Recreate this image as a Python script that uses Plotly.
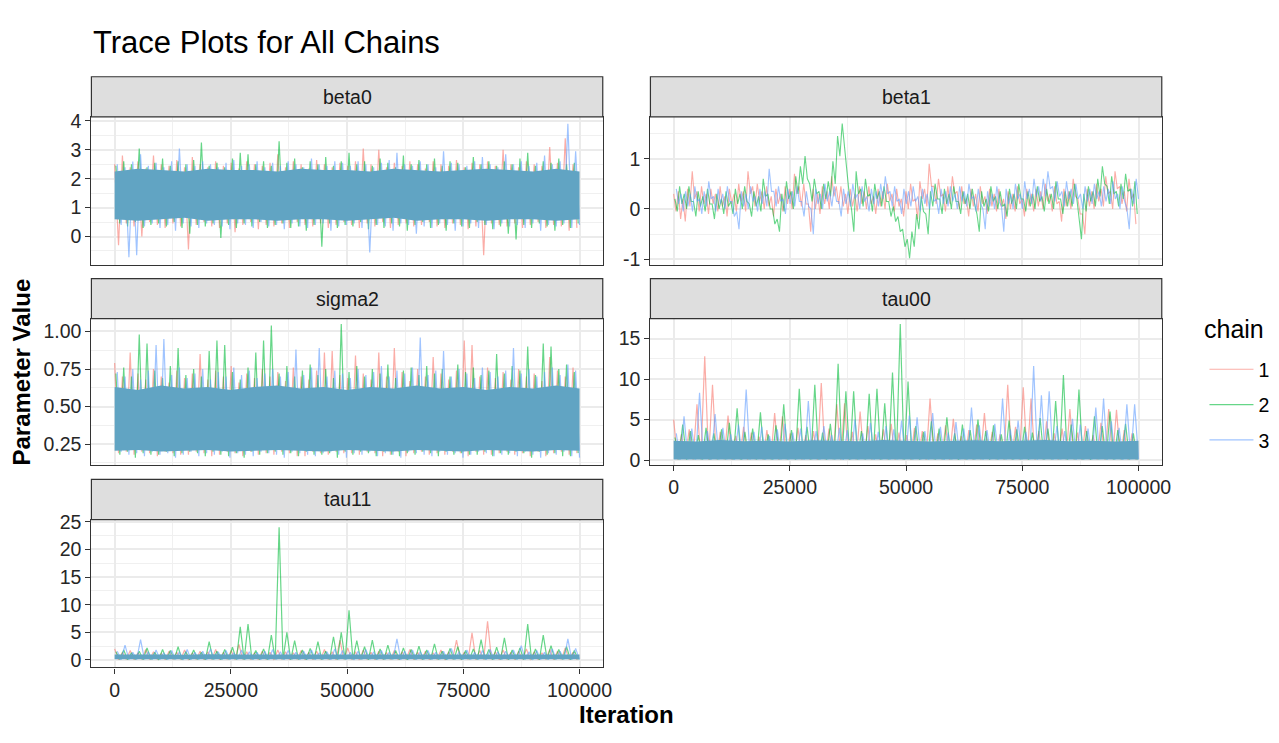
import numpy as np
import plotly.graph_objects as go

# ---------------- data ----------------
CHAINS = ["1", "2", "3"]
CHAIN_COLORS = ["rgba(248,118,109,0.6)", "rgba(0,186,56,0.6)", "rgba(97,156,255,0.6)"]
BAND_COLOR = "#61A4C3"
CHAIN_START = [0, 280, 560]
CHAIN_END = [99440, 99720, 100000]
BAND_ITER = [0, 5000, 10000, 15000, 20000, 25000, 30000, 35000, 40000, 45000, 50000,
             55000, 60000, 65000, 70000, 75000, 80000, 85000, 90000, 95000, 100000]
X_TICKS = [0, 25000, 50000, 75000, 100000]
BETA1_TICKS = [-1, 0, 1]
BETA1_TICK_TEXT = ["-1", "0", "1"]

# beta0 : per chain, successive local maxima (hi) and minima (lo)
beta0_c1_hi = [2.5, 2.8, 2.4, 2.6, 2.35, 2.8, 2.5, 2.45, 2.65, 2.4,
               2.75, 2.5, 2.4, 2.6, 2.45, 2.55, 2.35, 2.6, 2.5, 2.45,
               2.55, 2.85, 2.4, 2.6, 2.5, 2.35, 2.65, 2.5, 2.4, 2.55,
               2.45, 2.6, 3.05, 2.5, 3.0, 2.4, 2.55, 2.45, 2.6, 2.5,
               2.35, 2.6, 2.5, 2.45, 2.65, 2.4, 2.55, 2.5, 2.6, 2.45,
               3.0, 2.5, 2.4, 2.6, 2.5, 2.45, 3.1, 2.55, 3.4, 2.5]
beta0_c1_lo = [-0.3, 0.45, 0.35, 0.0, 0.5, 0.4, 0.3, 0.45, 0.35, -0.45,
               0.4, 0.5, 0.35, 0.3, 0.45, 0.15, 0.4, 0.5, 0.25, 0.4,
               0.35, 0.45, 0.3, 0.5, 0.4, 0.35, 0.45, 0.3, 0.4, 0.5,
               0.4, 0.3, 0.45, 0.35, 0.5, 0.3, 0.4, 0.45, 0.35, 0.4,
               0.5, 0.35, 0.3, 0.45, 0.4, 0.25, 0.35, -0.65, 0.45, 0.4,
               0.35, 0.45, 0.3, 0.4, 0.5, 0.3, 0.4, 0.35, 0.2, 0.3]
beta0_c2_hi = [2.45, 2.6, 2.5, 3.05, 2.4, 2.55, 2.7, 2.45, 2.6, 2.5,
               2.65, 3.25, 2.45, 2.55, 2.4, 2.7, 2.9, 2.85, 2.5, 2.6,
               2.45, 3.3, 2.55, 2.7, 2.4, 2.6, 2.5, 2.75, 2.45, 2.6,
               2.9, 2.5, 2.6, 2.45, 2.7, 2.55, 2.4, 2.8, 2.5, 2.65,
               2.5, 2.7, 2.45, 2.6, 2.55, 2.4, 2.75, 2.5, 2.6, 2.45,
               2.6, 2.5, 2.7, 2.9, 2.45, 2.6, 2.55, 2.7, 2.5, 2.55]
beta0_c2_lo = [0.45, 0.35, 0.5, 0.3, 0.4, 0.45, 0.35, 0.5, 0.3, 0.1,
               0.4, 0.35, 0.45, -0.05, 0.4, 0.3, 0.45, 0.35, 0.5, 0.3,
               0.4, 0.45, 0.3, 0.35, 0.2, 0.4, -0.35, 0.45, 0.3, 0.4,
               0.35, 0.5, 0.25, 0.4, 0.3, 0.45, 0.35, 0.2, 0.4, 0.5,
               0.3, 0.4, 0.2, 0.45, 0.35, 0.3, 0.5, 0.4, 0.25, 0.35,
               0.1, -0.1, 0.4, 0.3, 0.45, 0.35, 0.2, 0.4, 0.3, 0.45]
beta0_c3_hi = [2.5, 2.4, 2.6, 2.85, 2.45, 2.55, 2.4, 2.6, 3.05, 2.5,
               2.45, 2.6, 2.5, 2.4, 2.55, 2.65, 2.45, 2.5, 2.6, 2.4,
               2.55, 2.45, 2.6, 2.5, 2.4, 2.7, 2.5, 2.45, 2.6, 2.55,
               2.45, 2.6, 2.5, 2.4, 2.55, 2.65, 2.9, 2.5, 2.45, 2.6,
               2.5, 2.4, 2.95, 2.55, 2.5, 2.45, 2.6, 2.75, 2.5, 2.4,
               2.85, 2.5, 2.6, 2.45, 2.55, 2.8, 2.5, 2.6, 3.9, 2.95]
beta0_c3_lo = [0.4, -0.72, -0.65, 0.35, 0.45, 0.3, 0.4, 0.2, 0.45, 0.35,
               0.3, 0.45, 0.4, 0.35, 0.25, 0.45, 0.4, 0.3, 0.5, 0.35,
               0.4, 0.25, 0.45, 0.35, 0.3, 0.4, 0.45, 0.2, 0.35, 0.4,
               0.45, 0.3, -0.55, 0.4, 0.35, 0.2, 0.45, 0.4, 0.1, 0.35,
               0.3, 0.45, 0.4, 0.2, 0.35, 0.45, 0.3, 0.4, 0.25, 0.45,
               0.35, 0.4, 0.3, 0.45, 0.2, 0.4, 0.35, 0.45, 0.3, 0.4]
beta0_band_hi = [2.25, 2.35, 2.3, 2.25, 2.35, 2.3, 2.3, 2.25, 2.35, 2.3, 2.3,
                 2.25, 2.35, 2.3, 2.25, 2.3, 2.35, 2.3, 2.25, 2.35, 2.25]
beta0_band_lo = [0.6, 0.55, 0.6, 0.65, 0.55, 0.6, 0.6, 0.55, 0.6, 0.6, 0.55,
                 0.6, 0.65, 0.55, 0.6, 0.6, 0.55, 0.6, 0.6, 0.55, 0.6]

# sigma2
sigma2_c1_hi = [0.79, 0.7, 0.86, 0.72, 0.68, 0.75, 0.7, 0.66, 0.74, 0.69,
                0.72, 0.85, 0.68, 0.74, 0.7, 0.77, 0.66, 0.72, 0.69, 0.75,
                0.7, 0.73, 0.67, 0.76, 0.7, 0.68, 0.74, 0.86, 0.87, 0.71,
                0.69, 0.84, 0.72, 0.68, 0.86, 0.7, 0.89, 0.73, 0.67, 0.75,
                0.7, 0.83, 0.72, 0.68, 0.74, 0.94, 0.91, 0.7, 0.76, 0.69,
                0.73, 0.68, 0.75, 0.7, 0.72, 0.67, 0.83, 0.74, 0.7, 0.76]
sigma2_c1_lo = [0.19, 0.2, 0.18, 0.2, 0.19, 0.17, 0.2, 0.19, 0.18, 0.18,
                0.2, 0.19, 0.17, 0.18, 0.2, 0.19, 0.17, 0.2, 0.18, 0.19,
                0.18, 0.2, 0.19, 0.17, 0.17, 0.2, 0.19, 0.18, 0.2, 0.19,
                0.19, 0.18, 0.2, 0.19, 0.17, 0.18, 0.2, 0.17, 0.19, 0.2,
                0.18, 0.19, 0.18, 0.2, 0.19, 0.17, 0.2, 0.18, 0.18, 0.19,
                0.2, 0.18, 0.19, 0.17, 0.2, 0.17, 0.19, 0.2, 0.18, 0.19]
sigma2_c2_hi = [0.72, 0.76, 0.7, 0.98, 0.92, 0.74, 0.69, 0.77, 0.89, 0.71,
                0.75, 0.7, 0.87, 0.94, 0.91, 0.73, 0.68, 0.76, 0.86, 0.94,
                1.04, 0.72, 0.77, 0.7, 0.74, 0.78, 0.71, 0.75, 0.69, 1.05,
                0.73, 0.77, 0.7, 0.75, 0.72, 0.78, 0.69, 0.74, 0.76, 0.71,
                0.77, 0.72, 0.75, 0.7, 0.78, 0.73, 0.76, 0.71, 0.74, 0.85,
                0.72, 0.77, 0.74, 0.9, 0.71, 0.92, 0.9, 0.75, 0.78, 0.73]
sigma2_c2_lo = [0.18, 0.2, 0.16, 0.19, 0.18, 0.18, 0.2, 0.17, 0.19, 0.2,
                0.19, 0.17, 0.2, 0.18, 0.17, 0.19, 0.16, 0.2, 0.18, 0.19,
                0.2, 0.18, 0.19, 0.17, 0.2, 0.18, 0.18, 0.19, 0.16, 0.2,
                0.18, 0.2, 0.19, 0.17, 0.2, 0.18, 0.17, 0.19, 0.18, 0.2,
                0.19, 0.17, 0.2, 0.18, 0.19, 0.18, 0.18, 0.2, 0.17, 0.19,
                0.18, 0.2, 0.19, 0.16, 0.2, 0.18, 0.19, 0.17, 0.17, 0.19]
sigma2_c3_hi = [0.73, 0.7, 0.75, 0.68, 0.74, 0.91, 0.95, 0.71, 0.76, 0.69,
                0.72, 0.75, 0.68, 0.73, 0.7, 0.76, 0.71, 0.74, 0.69, 0.72,
                0.75, 0.7, 0.73, 0.88, 0.71, 0.76, 0.89, 0.7, 0.74, 0.72,
                0.69, 0.75, 0.71, 0.73, 0.77, 0.7, 0.74, 0.72, 0.76, 0.96,
                0.71, 0.74, 0.87, 0.7, 0.75, 0.72, 0.69, 0.76, 0.73, 0.7,
                0.74, 0.89, 0.72, 0.75, 0.7, 0.73, 0.76, 0.71, 0.78, 0.74]
sigma2_c3_lo = [0.2, 0.18, 0.19, 0.17, 0.2, 0.18, 0.19, 0.16, 0.18, 0.2,
                0.17, 0.19, 0.18, 0.2, 0.16, 0.19, 0.18, 0.17, 0.2, 0.19,
                0.18, 0.16, 0.2, 0.19, 0.18, 0.17, 0.19, 0.2, 0.18, 0.16,
                0.19, 0.18, 0.2, 0.17, 0.19, 0.18, 0.16, 0.2, 0.19, 0.18,
                0.17, 0.2, 0.18, 0.19, 0.16, 0.18, 0.2, 0.19, 0.17, 0.18,
                0.19, 0.17, 0.2, 0.18, 0.16, 0.19, 0.18, 0.2, 0.17, 0.16]
sigma2_band_hi = [0.63, 0.61, 0.64, 0.62, 0.63, 0.61, 0.63, 0.64, 0.62, 0.63, 0.61,
                  0.63, 0.62, 0.64, 0.62, 0.63, 0.61, 0.63, 0.62, 0.64, 0.62]
sigma2_band_lo = [0.205, 0.21, 0.2, 0.205, 0.21, 0.2, 0.205, 0.21, 0.205, 0.2, 0.21,
                  0.205, 0.2, 0.21, 0.205, 0.2, 0.21, 0.205, 0.2, 0.21, 0.205]

# tau00
tau00_c1_hi = [5.0, 3.2, 3.8, 6.9, 12.8, 9.3, 3.5, 5.5, 3.0, 4.1,
               3.4, 2.9, 3.7, 5.8, 5.4, 3.3, 4.0, 3.1, 3.6, 9.5,
               3.9, 6.9, 7.0, 3.5, 6.0, 4.2, 3.2, 3.8, 4.5, 3.4,
               3.1, 4.0, 3.6, 7.6, 3.3, 4.3, 5.1, 3.0, 3.7, 4.4,
               5.8, 3.5, 3.2, 9.3, 4.1, 9.0, 7.6, 3.6, 4.8, 3.3,
               3.9, 6.3, 3.4, 4.2, 3.1, 4.6, 6.3, 6.2, 3.7, 3.3]
tau00_c1_lo = [0.08, 0.12, 0.06, 0.1, 0.07, 0.11, 0.09, 0.05, 0.12, 0.08,
               0.1, 0.07, 0.11, 0.06, 0.09, 0.12, 0.08, 0.1, 0.05, 0.09,
               0.11, 0.07, 0.1, 0.08, 0.12, 0.06, 0.09, 0.11, 0.07, 0.1,
               0.08, 0.12, 0.05, 0.1, 0.09, 0.07, 0.11, 0.08, 0.06, 0.1,
               0.12, 0.09, 0.07, 0.1, 0.08, 0.11, 0.05, 0.09, 0.12, 0.07,
               0.1, 0.08, 0.06, 0.11, 0.09, 0.07, 0.12, 0.1, 0.08, 0.06]
tau00_c2_hi = [2.8, 4.4, 3.6, 3.1, 4.0, 3.3, 3.8, 4.6, 6.4, 3.5,
               3.9, 5.9, 3.2, 4.3, 6.9, 3.7, 8.8, 4.1, 9.3, 3.4,
               4.5, 11.9, 8.5, 8.5, 3.6, 8.2, 8.8, 7.0, 10.8, 16.8,
               9.7, 4.2, 3.5, 4.8, 3.9, 5.3, 3.3, 4.4, 3.7, 5.0,
               3.6, 4.3, 3.2, 4.9, 3.8, 4.1, 3.4, 5.2, 3.9, 7.3,
               10.5, 4.4, 8.7, 3.6, 5.4, 4.2, 6.0, 3.7, 4.5, 3.3]
tau00_c2_lo = [0.1, 0.07, 0.12, 0.08, 0.06, 0.11, 0.09, 0.1, 0.05, 0.12,
               0.08, 0.1, 0.07, 0.11, 0.09, 0.06, 0.12, 0.08, 0.1, 0.07,
               0.09, 0.11, 0.05, 0.1, 0.08, 0.12, 0.07, 0.09, 0.11, 0.06,
               0.1, 0.08, 0.12, 0.07, 0.09, 0.11, 0.05, 0.1, 0.08, 0.12,
               0.06, 0.09, 0.11, 0.07, 0.1, 0.08, 0.12, 0.06, 0.09, 0.11,
               0.07, 0.1, 0.08, 0.05, 0.12, 0.09, 0.07, 0.11, 0.1, 0.08]
tau00_c3_hi = [3.3, 5.4, 3.9, 8.3, 3.6, 5.7, 4.0, 3.2, 4.4, 8.7,
               3.5, 4.1, 3.0, 3.8, 4.5, 3.4, 3.9, 7.3, 3.6, 4.2,
               3.1, 4.0, 3.7, 5.0, 3.3, 4.6, 3.5, 4.2, 3.8, 4.9,
               5.5, 5.3, 3.6, 5.8, 4.1, 3.4, 4.7, 3.9, 6.5, 4.3,
               3.7, 4.5, 7.6, 3.8, 4.9, 3.5, 11.6, 8.0, 8.5, 4.2,
               3.6, 5.1, 4.4, 3.9, 6.5, 7.6, 4.8, 4.0, 6.9, 6.9]
tau00_c3_lo = [0.06, 0.1, 0.08, 0.12, 0.07, 0.09, 0.11, 0.05, 0.1, 0.08,
               0.12, 0.07, 0.09, 0.1, 0.06, 0.11, 0.08, 0.12, 0.07, 0.09,
               0.1, 0.05, 0.11, 0.08, 0.12, 0.07, 0.1, 0.06, 0.09, 0.11,
               0.08, 0.1, 0.07, 0.12, 0.05, 0.09, 0.11, 0.08, 0.1, 0.06,
               0.12, 0.07, 0.09, 0.11, 0.08, 0.1, 0.05, 0.12, 0.07, 0.09,
               0.11, 0.06, 0.1, 0.08, 0.12, 0.07, 0.09, 0.05, 0.11, 0.1]
tau00_band_hi = [2.4, 2.3, 2.5, 2.35, 2.4, 2.3, 2.45, 2.4, 2.35, 2.5, 2.4,
                 2.3, 2.4, 2.45, 2.35, 2.4, 2.5, 2.35, 2.4, 2.3, 2.4]
tau00_band_lo = [0.1, 0.1, 0.1, 0.1, 0.1, 0.1, 0.1, 0.1, 0.1, 0.1, 0.1,
                 0.1, 0.1, 0.1, 0.1, 0.1, 0.1, 0.1, 0.1, 0.1, 0.1]

# tau11
tau11_c1_hi = [2.0, 1.4, 1.7, 1.3, 1.9, 1.5, 1.2, 1.6, 1.4, 1.8,
               1.3, 1.6, 1.5, 1.9, 1.4, 1.7, 2.8, 1.5, 1.3, 1.6,
               1.4, 1.8, 1.5, 1.3, 1.7, 1.4, 1.6, 1.9, 1.5, 3.6,
               2.2, 1.5, 1.8, 1.4, 1.6, 1.3, 1.7, 1.5, 1.9, 1.4,
               1.6, 1.3, 1.8, 1.5, 3.6, 1.4, 4.9, 1.7, 7.0, 1.5,
               1.8, 1.4, 1.6, 2.0, 1.5, 1.3, 1.9, 1.6, 2.2, 1.4]
tau11_c1_lo = [0.05, 0.1, 0.03, 0.08, 0.06, 0.11, 0.04, 0.09, 0.07, 0.02,
               0.1, 0.05, 0.08, 0.03, 0.11, 0.06, 0.09, 0.04, 0.07, 0.1,
               0.02, 0.08, 0.05, 0.11, 0.06, 0.03, 0.09, 0.07, 0.04, 0.1,
               0.06, 0.02, 0.08, 0.05, 0.11, 0.07, 0.03, 0.09, 0.04, 0.1,
               0.05, 0.08, 0.02, 0.11, 0.06, 0.09, 0.03, 0.07, 0.1, 0.04,
               0.08, 0.05, 0.11, 0.02, 0.07, 0.09, 0.04, 0.1, 0.06, 0.03]
tau11_c2_hi = [1.5, 1.8, 1.3, 1.6, 2.2, 1.4, 1.9, 1.7, 2.4, 1.5,
               1.8, 1.4, 3.3, 1.6, 1.9, 2.3, 6.0, 6.5, 1.7, 2.0,
               4.5, 24.0, 5.0, 3.5, 1.8, 2.1, 3.3, 1.6, 4.2, 5.0,
               9.0, 3.5, 2.4, 3.6, 2.0, 2.7, 1.7, 2.2, 1.9, 2.5,
               1.8, 2.9, 1.6, 2.1, 2.4, 1.7, 2.0, 3.7, 1.9, 2.3,
               4.0, 1.8, 2.2, 6.5, 2.0, 4.5, 2.6, 1.9, 2.4, 1.7]
tau11_c2_lo = [0.08, 0.03, 0.1, 0.05, 0.09, 0.02, 0.07, 0.11, 0.04, 0.06,
               0.1, 0.03, 0.08, 0.05, 0.11, 0.07, 0.02, 0.09, 0.06, 0.04,
               0.1, 0.07, 0.03, 0.08, 0.05, 0.11, 0.02, 0.09, 0.06, 0.04,
               0.08, 0.1, 0.03, 0.07, 0.05, 0.11, 0.06, 0.02, 0.09, 0.04,
               0.1, 0.07, 0.05, 0.08, 0.03, 0.11, 0.06, 0.09, 0.02, 0.07,
               0.04, 0.1, 0.05, 0.08, 0.03, 0.11, 0.06, 0.09, 0.04, 0.07]
tau11_c3_hi = [1.6, 2.7, 1.4, 3.7, 1.5, 1.8, 1.3, 1.7, 1.5, 1.9,
               1.4, 1.6, 2.0, 1.5, 1.7, 1.3, 1.8, 1.5, 1.4, 1.6,
               1.9, 1.5, 1.7, 1.4, 1.6, 1.8, 1.3, 1.5, 2.0, 1.7,
               1.4, 1.6, 1.9, 1.5, 1.7, 1.4, 3.8, 1.6, 1.8, 1.5,
               1.7, 1.4, 1.6, 2.1, 1.5, 1.8, 1.4, 1.7, 1.9, 1.5,
               1.6, 1.8, 2.6, 1.5, 1.7, 1.4, 2.0, 1.6, 3.8, 2.1]
tau11_c3_lo = [0.04, 0.09, 0.06, 0.11, 0.03, 0.08, 0.05, 0.1, 0.02, 0.07,
               0.09, 0.04, 0.11, 0.06, 0.03, 0.08, 0.1, 0.05, 0.07, 0.02,
               0.09, 0.06, 0.11, 0.04, 0.08, 0.03, 0.1, 0.05, 0.07, 0.09,
               0.02, 0.06, 0.11, 0.04, 0.08, 0.1, 0.03, 0.07, 0.05, 0.09,
               0.06, 0.11, 0.02, 0.08, 0.04, 0.1, 0.07, 0.03, 0.09, 0.05,
               0.11, 0.06, 0.08, 0.02, 0.1, 0.04, 0.07, 0.09, 0.03, 0.06]
tau11_band_hi = [1.0, 1.05, 1.0, 0.95, 1.05, 1.0, 1.0, 1.05, 1.0, 0.95, 1.0,
                 1.05, 1.0, 1.0, 0.95, 1.05, 1.0, 1.0, 1.05, 1.0, 1.0]
tau11_band_lo = [0.15, 0.15, 0.15, 0.15, 0.15, 0.15, 0.15, 0.15, 0.15, 0.15, 0.15,
                 0.15, 0.15, 0.15, 0.15, 0.15, 0.15, 0.15, 0.15, 0.15, 0.15]

# beta1 : per chain, local maxima / minima every 1000 iterations
beta1_c1_hi = [0.3, 0.35, 0.2, 0.4, 0.75, 0.35, 0.45, 0.3, 0.4, 0.3,
               0.45, 0.25, 0.4, 0.3, 0.5, 0.35, 0.75, 0.45, 0.5, 0.35,
               0.45, 0.25, 0.4, 0.3, 0.45, 0.4, 0.7, 0.45, 0.5, 0.1,
               0.4, 0.3, 0.45, 0.35, 0.65, 0.45, 0.45, 0.3, 0.4, 0.3,
               0.45, 0.35, 0.45, 0.25, 0.4, 0.35, 0.5, 0.3, 0.4, 0.2,
               0.35, 0.5, 0.2, 0.55, 0.4, 0.9, 0.45, 0.6, 0.3, 0.45,
               0.65, 0.35, 0.45, 0.2, 0.4, 0.3, 0.45, 0.25, 0.4, 0.3,
               0.4, 0.2, 0.35, 0.3, 0.45, 0.2, 0.4, 0.3, 0.4, 0.35,
               0.5, 0.3, 0.45, 0.15, 0.4, 0.35, 0.6, 0.2, -0.1, 0.4,
               0.35, 0.5, 0.4, 0.65, 0.35, 0.75, 0.45, 0.35, 0.6, 0.3]
beta1_c1_lo = [-0.05, -0.2, -0.25, 0.05, 0.2, -0.05, 0.1, -0.1, 0.1, -0.05,
               0.05, -0.15, 0.1, -0.05, 0.15, -0.05, 0.3, 0.05, 0.15, 0.0,
               0.05, -0.15, 0.1, -0.05, 0.1, 0.0, 0.3, 0.05, 0.1, -0.45,
               0.0, -0.1, 0.1, 0.0, 0.25, 0.1, 0.05, -0.1, 0.05, -0.05,
               0.1, 0.0, 0.1, -0.1, 0.05, 0.0, 0.15, -0.05, 0.05, -0.15,
               0.0, 0.15, -0.2, 0.2, 0.05, 0.45, 0.1, 0.25, -0.05, 0.1,
               0.3, 0.0, 0.1, -0.15, 0.05, -0.05, 0.1, -0.1, 0.05, -0.05,
               0.05, -0.2, 0.0, -0.05, 0.1, -0.15, 0.05, -0.05, 0.05, 0.0,
               0.15, -0.05, 0.1, -0.25, 0.05, 0.0, 0.25, -0.1, -0.5, 0.05,
               0.0, 0.15, 0.05, 0.3, 0.0, 0.4, 0.1, -0.05, 0.2, -0.3]
beta1_c2_hi = [0.2, 0.45, 0.3, 0.45, 0.15, 0.35, 0.25, 0.4, 0.1, 0.3,
               0.2, 0.35, 0.15, 0.4, 0.3, 0.45, 0.1, 0.35, 0.25, 0.6,
               0.3, 0.0, -0.2, 0.3, 0.55, 0.35, 0.65, 0.85, 1.05, 0.5,
               0.6, 0.35, 0.5, 0.55, 0.95, 1.45, 1.7, 0.8, 0.0, 0.75,
               0.4, 0.6, 0.3, 0.5, 0.35, 0.45, 0.15, 0.05, -0.15, -0.4,
               -0.6, -0.45, -0.1, 0.25, -0.1, 0.35, 0.5, 0.2, 0.4, 0.3,
               0.45, 0.15, 0.35, 0.3, 0.4, -0.1, 0.35, 0.2, 0.45, 0.25,
               0.35, 0.1, 0.4, 0.3, 0.5, 0.2, 0.35, 0.3, 0.45, 0.25,
               0.4, 0.3, 0.55, 0.2, 0.35, 0.35, 0.5, -0.2, 0.3, 0.45,
               0.35, 0.6, 0.85, 0.45, 0.65, 0.35, 0.5, 0.7, 0.4, 0.55]
beta1_c2_lo = [-0.05, 0.1, 0.0, 0.15, -0.15, 0.05, -0.05, 0.1, -0.2, 0.0,
               -0.1, 0.05, -0.1, 0.1, 0.0, 0.15, -0.15, 0.05, -0.05, 0.25,
               0.0, -0.3, -0.45, -0.05, 0.2, 0.0, 0.3, 0.5, 0.6, 0.15,
               0.3, 0.0, 0.2, 0.25, 0.5, 1.05, 1.2, 0.3, -0.45, 0.3,
               0.05, 0.25, -0.05, 0.2, 0.05, 0.15, -0.15, -0.25, -0.45, -0.75,
               -0.98, -0.75, -0.4, -0.05, -0.5, 0.05, 0.2, -0.1, 0.1, 0.0,
               0.15, -0.1, 0.1, 0.0, 0.1, -0.45, 0.05, -0.05, 0.15, 0.0,
               0.05, -0.15, 0.1, 0.0, 0.2, -0.05, 0.05, 0.0, 0.15, -0.05,
               0.1, 0.0, 0.2, -0.1, 0.05, 0.05, 0.2, -0.6, -0.05, 0.15,
               0.05, 0.25, 0.5, 0.1, 0.3, 0.05, 0.2, 0.35, 0.05, -0.1]
beta1_c3_hi = [0.4, 0.3, 0.35, 0.3, 0.45, 0.2, 0.35, 0.55, 0.25, 0.4,
               0.3, 0.45, 0.15, -0.05, 0.35, 0.3, 0.45, 0.25, 0.4, 0.35,
               0.8, 0.35, 0.45, 0.2, 0.4, 0.35, 0.45, 0.15, 0.35, 0.0,
               0.4, 0.3, 0.5, 0.35, 0.45, 0.15, 0.4, 0.35, 0.5, 0.3,
               0.45, 0.25, 0.4, 0.35, 0.5, 0.65, 0.35, 0.45, 0.2, 0.4,
               0.35, 0.45, 0.25, 0.4, 0.3, 0.45, 0.2, 0.4, 0.35, 0.45,
               0.3, 0.45, 0.35, 0.5, 0.25, 0.4, 0.0, 0.35, 0.3, 0.45,
               0.05, 0.4, 0.3, 0.5, 0.3, 0.55, 0.4, 0.6, 0.45, 0.6,
               0.75, 0.45, 0.55, 0.35, 0.55, 0.4, 0.5, 0.3, 0.45, 0.4,
               0.5, 0.35, 0.45, 0.4, 0.55, 0.3, 0.45, 0.0, 0.4, 0.6]
beta1_c3_lo = [0.1, -0.05, 0.05, -0.05, 0.15, -0.1, 0.05, 0.2, -0.05, 0.1,
               0.0, 0.15, -0.15, -0.4, 0.05, 0.0, 0.15, -0.05, 0.1, 0.05,
               0.35, 0.05, 0.15, -0.1, 0.1, 0.05, 0.15, -0.15, 0.05, -0.5,
               0.1, 0.0, 0.15, 0.05, 0.15, -0.15, 0.1, 0.05, 0.2, 0.0,
               0.15, -0.05, 0.1, 0.05, 0.2, 0.3, 0.05, 0.15, -0.1, 0.1,
               0.05, 0.15, -0.05, 0.1, 0.0, 0.15, -0.1, 0.1, 0.05, 0.15,
               0.0, 0.15, 0.05, 0.2, -0.05, 0.1, -0.4, 0.05, 0.0, 0.15,
               -0.45, 0.1, 0.0, 0.2, 0.0, 0.2, 0.1, 0.25, 0.15, 0.25,
               0.4, 0.15, 0.25, 0.05, 0.2, 0.1, 0.2, 0.0, 0.15, 0.1,
               0.2, 0.05, 0.15, 0.1, 0.2, 0.0, 0.15, -0.4, 0.1, 0.2]

# ---------------- layout helpers ----------------
# the page body has an 8px margin, so the figure is drawn 8px in from the corner
PAGE_W, PAGE_H, OFF = 1279, 743, 8
W, H = PAGE_W - OFF, PAGE_H - OFF
FONT = "Liberation Sans, Arial, Helvetica, sans-serif"
def fx(p): return (p - OFF) / W
def fy(p): return 1 - (p - OFF) / H

# name, (left, right, top, bottom) in page px, y-range, y-dtick, tick format, show x ticks
PANELS = [
    ("beta0", (92, 607, 110, 261), [-0.98, 4.14], 1, "", False),
    ("beta1", (655, 1170, 110, 261), [-1.11, 1.83], 1, "", False),
    ("sigma2", (92, 607, 316, 465), [0.113, 1.085], 0.25, ".2f", False),
    ("tau00", (655, 1170, 316, 465), [-0.55, 17.44], 5, "", True),
    ("tau11", (92, 607, 521, 672), [-1.35, 25.4], 5, "", True),
]
STRIP_H = 41
TICK_COLOR = "#262626"

fig = go.Figure()

def axis_names(i):
    return ("x" if i == 1 else f"x{i}", "y" if i == 1 else f"y{i}")

def add_chains(i, his, los, width=1.2, legend=False):
    xa, ya = axis_names(i)
    for k in range(3):
        hi, lo = his[k], los[k]
        n = min(len(hi), len(lo))
        yv = np.empty(2 * n)
        yv[0::2] = hi[:n]
        yv[1::2] = lo[:n]
        xv = np.linspace(CHAIN_START[k], CHAIN_END[k], 2 * n)
        fig.add_trace(go.Scatter(x=xv, y=yv, mode="lines", xaxis=xa, yaxis=ya,
                                 line=dict(color=CHAIN_COLORS[k], width=width),
                                 name=CHAINS[k], legendgroup=CHAINS[k],
                                 showlegend=legend, hoverinfo="skip"))

def add_band(i, band_hi, band_lo):
    xa, ya = axis_names(i)
    bx = list(BAND_ITER) + list(BAND_ITER[::-1])
    by = list(band_hi) + list(band_lo[::-1])
    fig.add_trace(go.Scatter(x=bx, y=by, mode="lines", fill="toself",
                             fillcolor=BAND_COLOR, line=dict(width=0),
                             xaxis=xa, yaxis=ya, showlegend=False, hoverinfo="skip"))

add_chains(1, [beta0_c1_hi, beta0_c2_hi, beta0_c3_hi], [beta0_c1_lo, beta0_c2_lo, beta0_c3_lo], legend=True)
add_band(1, beta0_band_hi, beta0_band_lo)
add_chains(2, [beta1_c1_hi, beta1_c2_hi, beta1_c3_hi], [beta1_c1_lo, beta1_c2_lo, beta1_c3_lo], width=1.1)
add_chains(3, [sigma2_c1_hi, sigma2_c2_hi, sigma2_c3_hi], [sigma2_c1_lo, sigma2_c2_lo, sigma2_c3_lo])
add_band(3, sigma2_band_hi, sigma2_band_lo)
add_chains(4, [tau00_c1_hi, tau00_c2_hi, tau00_c3_hi], [tau00_c1_lo, tau00_c2_lo, tau00_c3_lo])
add_band(4, tau00_band_hi, tau00_band_lo)
add_chains(5, [tau11_c1_hi, tau11_c2_hi, tau11_c3_hi], [tau11_c1_lo, tau11_c2_lo, tau11_c3_lo])
add_band(5, tau11_band_hi, tau11_band_lo)

layout = dict(
    width=W, height=H, autosize=False,
    margin=dict(l=0, r=0, t=0, b=0),
    paper_bgcolor="white", plot_bgcolor="white",
    font=dict(family=FONT, color=TICK_COLOR),
    title=dict(text="Trace Plots for All Chains", x=fx(93), xanchor="left",
               y=fy(42), yanchor="middle", font=dict(size=31, color="black", family=FONT)),
    legend=dict(x=fx(1213), y=fy(348), xanchor="left", yanchor="top",
                font=dict(size=19.5, color="black"), tracegroupgap=7, itemwidth=44,
                traceorder="grouped", bgcolor="rgba(0,0,0,0)"),
    showlegend=True,
)
shapes, annotations = [], []
for i, (name, (l, r, t, b), yr, dt, tf, showx) in enumerate(PANELS, start=1):
    xk = "xaxis" if i == 1 else f"xaxis{i}"
    yk = "yaxis" if i == 1 else f"yaxis{i}"
    xa, ya = axis_names(i)
    layout[xk] = dict(domain=[fx(l), fx(r)], anchor=ya, range=[-5000, 105000],
                      tickvals=X_TICKS, tickformat="d", showticklabels=showx,
                      ticks="outside" if showx else "", ticklen=5, tickwidth=1.2, tickcolor="#333333",
                      tickfont=dict(size=19.5, color=TICK_COLOR),
                      showgrid=True, gridcolor="#EBEBEB", gridwidth=1.6,
                      minor=dict(dtick=12500, tick0=0, showgrid=True, gridcolor="#F0F0F0", gridwidth=0.8),
                      zeroline=False, showline=True, mirror=True, linecolor="#333333", linewidth=1.2)
    yax = dict(domain=[fy(b), fy(t)], anchor=xa, range=yr,
               tick0=0, dtick=dt, tickformat=tf,
               ticks="outside", ticklen=5, tickwidth=1.2, tickcolor="#333333",
               tickfont=dict(size=19.5, color=TICK_COLOR),
               showgrid=True, gridcolor="#EBEBEB", gridwidth=1.6,
               minor=dict(dtick=dt / 2, tick0=0, showgrid=True, gridcolor="#F0F0F0", gridwidth=0.8),
               zeroline=False, showline=True, mirror=True, linecolor="#333333", linewidth=1.2)
    if name == "beta1":
        yax.update(tickmode="array", tickvals=BETA1_TICKS, ticktext=BETA1_TICK_TEXT)
    layout[yk] = yax
    shapes.append(dict(type="rect", xref="paper", yref="paper",
                       x0=fx(l), x1=fx(r), y0=fy(t), y1=fy(t - STRIP_H),
                       fillcolor="#DEDEDE", line=dict(color="#333333", width=1.2), layer="above"))
    annotations.append(dict(text=name, xref="paper", yref="paper",
                            x=fx((l + r) / 2), y=fy(t - STRIP_H / 2), showarrow=False,
                            xanchor="center", yanchor="middle",
                            font=dict(size=19.5, color="#1A1A1A", family=FONT)))

annotations.append(dict(text="chain", xref="paper", yref="paper",
                        x=fx(1211), y=fy(326), showarrow=False, xanchor="left", yanchor="middle",
                        font=dict(size=25, color="black", family=FONT)))
annotations.append(dict(text="<b>Iteration</b>", xref="paper", yref="paper",
                        x=fx(631), y=fy(720), showarrow=False, xanchor="center", yanchor="middle",
                        font=dict(size=24, color="black", family=FONT)))
annotations.append(dict(text="<b>Parameter Value</b>", xref="paper", yref="paper",
                        x=fx(22), y=fy(370), showarrow=False, xanchor="center", yanchor="middle",
                        textangle=-90, font=dict(size=24, color="black", family=FONT)))
layout["shapes"] = shapes
layout["annotations"] = annotations
fig.update_layout(**layout)

fig.write_html("out.html")
